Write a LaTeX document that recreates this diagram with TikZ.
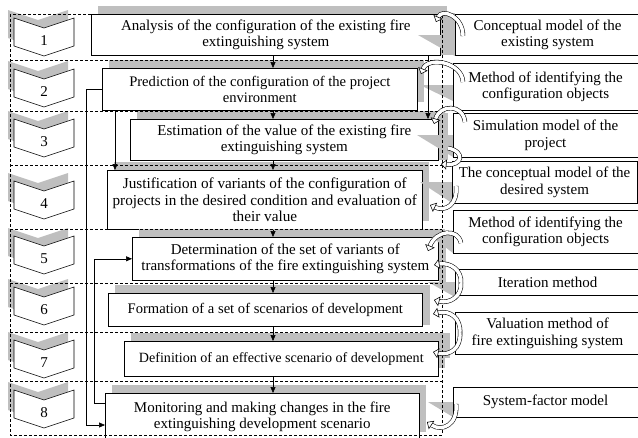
\documentclass[tikz,border=0pt]{standalone}
\usepackage{fontspec}
\setmainfont{Liberation Serif}
\usetikzlibrary{arrows.meta, shadows}

\tikzset{
  shadegray/.style={fill=black!25},
  boxfont/.style={font=\fontsize{#1}{16.5}\selectfont},
  boxfont/.default=15
}
\tikzset{
  stage/.style={draw, line width=0.6pt, fill=white, anchor=north west, align=center,
    inner sep=0pt, boxfont,
    drop shadow={opacity=1, fill=black!25, shadow xshift=7pt, shadow yshift=8pt}},
  tool/.style={draw, line width=0.6pt, fill=white, anchor=north west, align=center,
    inner sep=0pt, boxfont, minimum width=184.5pt},
  stepnum/.style={boxfont, inner sep=0pt},
  frame/.style={dash pattern=on 3pt off 2pt, line width=0.5pt},
  link/.style={-{Triangle[length=6pt, width=5pt]}, line width=0.6pt},
  twistarrow/.style={double=white, double distance=3.4pt, line width=0.55pt,
    -{Triangle[fill=white, length=5.5pt, width=10pt, line width=0.55pt]}}
}
\tikzset{
  chevron/.pic={
    \fill[shadegray] (-6,-8) -- (24,2) -- (54,-8) -- (54,20) -- (24,30) -- (-6,20) -- cycle;
    \draw[line width=0.6pt, fill=white] (0,0) -- (30,10) -- (60,0) -- (60,28) -- (30,38) -- (0,28) -- cycle;
    \node[stepnum] (-num) at (30,23) {#1};
  }
}

\begin{document}
\begin{tikzpicture}[x=1pt, y=-1pt]
  \useasboundingbox (0,0) rectangle (638,437);

  % step markers
  \pic (s1) at (14,18) {chevron=1};
  \pic (s2) at (14,69) {chevron=2};
  \pic (s3) at (14,119) {chevron=3};
  \pic (s4) at (14,181) {chevron=4};
  \pic (s5) at (14,236) {chevron=5};
  \pic (s6) at (14,287) {chevron=6};
  \pic (s7) at (14,340) {chevron=7};
  \pic (s8) at (14,390) {chevron=8};

  % stages
  \node[stage, minimum width=349pt, minimum height=41pt] (b1) at (91,14)
    {Analysis of the configuration of the existing fire\\extinguishing system};
  \node[stage, boxfont=14.6, minimum width=315pt, minimum height=42pt] (b2) at (102,68)
    {Prediction of the configuration of the project\\environment};
  \node[stage, minimum width=308pt, minimum height=41pt] (b3) at (130,119)
    {Estimation of the value of the existing fire\\extinguishing system};
  \node[stage, boxfont=15.2, minimum width=315pt, minimum height=59pt] (b4) at (107,170)
    {Justification of variants of the configuration of\\projects in the desired condition and evaluation of\\their value};
  \node[stage, minimum width=306pt, minimum height=43pt] (b5) at (132,237)
    {Determination of the set of variants of\\transformations of the fire extinguishing system};
  \node[stage, boxfont=14.6, minimum width=314pt, minimum height=33pt] (b6) at (108,293)
    {Formation of a set of scenarios of development};
  \node[stage, boxfont=14.1, minimum width=314pt, minimum height=35pt] (b7) at (124,341)
    {Definition of an effective scenario of development};
  \node[stage, minimum width=314pt, minimum height=47pt] (b8) at (105,393)
    {Monitoring and making changes in the fire\\extinguishing development scenario};

  % grey wedges
  \fill[shadegray] (441,13) rectangle (455,55);
  \fill[shadegray] (418,35) -- (455,35) -- (455,56) -- cycle;
  \fill[shadegray] (420,85) -- (453,85) -- (453,101) -- cycle;
  \fill[shadegray] (439,113) rectangle (448,160);
  \fill[shadegray] (417,135) -- (453,135) -- (453,157) -- cycle;
  \fill[shadegray] (420,182) -- (452,182) -- (452,203) -- cycle;
  \fill[shadegray] (439,231) rectangle (446,283);
  \fill[shadegray] (425,232) -- (453,232) -- (453,253) -- cycle;
  \fill[shadegray] (423,285) rectangle (430,325);
  \fill[shadegray] (428,282) -- (455,282) -- (455,297) -- cycle;
  \fill[shadegray] (439,333) rectangle (450,358);
  \fill[shadegray] (428,402) -- (453,402) -- (453,417) -- cycle;

  % links
  \coordinate (ax) at (273,0);
  \coordinate (ar) at (428,0);
  \coordinate (al) at (115,0);
  \coordinate (fbl) at (86,425);
  \coordinate (fbr) at (94,403);
  \draw[link] (b1.south -| ax) -- (b2.north -| ax);
  \draw[link] (b2.south -| ax) -- (b3.north -| ax);
  \draw[link] (b3.south -| ax) -- (b4.north -| ax);
  \draw[link] (b4.south -| ax) -- (b5.north -| ax);
  \draw[link] (b5.south -| ax) -- (b6.north -| ax);
  \draw[link] (b6.south -| ax) -- (b7.north -| ax);
  \draw[link] (b7.south -| ax) -- (b8.north -| ax);
  \draw[link] (b1.south -| ar) -- (b3.north -| ar);
  \draw[link] (b2.south -| al) -- (b4.north -| al);
  \draw[link] (b2.west) -| (fbl) -- (b8.west |- fbl);
  \draw[link] (b8.west |- fbr) -- (fbr) |- (b5.west);

  % dashed frame and rows
  \draw[frame] (10,14) rectangle (442,435);
  \draw[frame] (10,60) -- (442,60) (10,111) -- (442,111) (10,165) -- (442,165)
    (10,229) -- (442,229) (10,283) -- (442,283) (10,332) -- (442,332) (10,381) -- (442,381);

  % models and methods
  \node[tool, minimum height=41pt] (m1) at (455,14) {Conceptual model of the\\existing system};
  \node[tool, minimum height=47pt] (m2) at (453,63) {Method of identifying the\\configuration objects};
  \node[tool, minimum height=44pt] (m3) at (453,113) {Simulation model of the\\project};
  \node[tool, minimum height=42pt] (m4) at (452,161) {The conceptual model of the\\desired system};
  \node[tool, minimum height=43pt] (m5) at (453,210) {Method of identifying the\\configuration objects};
  \node[tool, minimum height=26pt] (m6) at (455,269) {Iteration method};
  \node[tool, minimum height=42pt] (m7) at (455,312) {Valuation method of\\fire extinguishing system};
  \node[tool, minimum height=30pt] (m8) at (453,387) {System-factor model};

  % curved arrows
  \draw[twistarrow] (463,36) .. controls (463,16) and (442,8) .. (436,22);
  \draw[twistarrow] (463,82) .. controls (462,62) and (428,56) .. (421,74);
  \draw[twistarrow] (465,122) .. controls (463,104) and (440,104) .. (434,124);
  \draw[twistarrow] (448,148) .. controls (466,152) and (462,166) .. (441,164);
  \draw[twistarrow] (456,186) .. controls (458,205) and (445,212) .. (430,205);
  \draw[twistarrow] (461,243) .. controls (458,228) and (436,230) .. (428,251);
  \draw[twistarrow] (461,283) .. controls (462,270) and (450,262) .. (434,265);
  \draw[twistarrow] (461,283) .. controls (462,296) and (450,304) .. (434,300);
  \draw[twistarrow] (460,333) .. controls (461,318) and (450,310) .. (433,314);
  \draw[twistarrow] (460,333) .. controls (461,348) and (450,356) .. (433,352);
  \draw[twistarrow] (456,404) .. controls (458,425) and (442,432) .. (427,422);
\end{tikzpicture}
\end{document}
